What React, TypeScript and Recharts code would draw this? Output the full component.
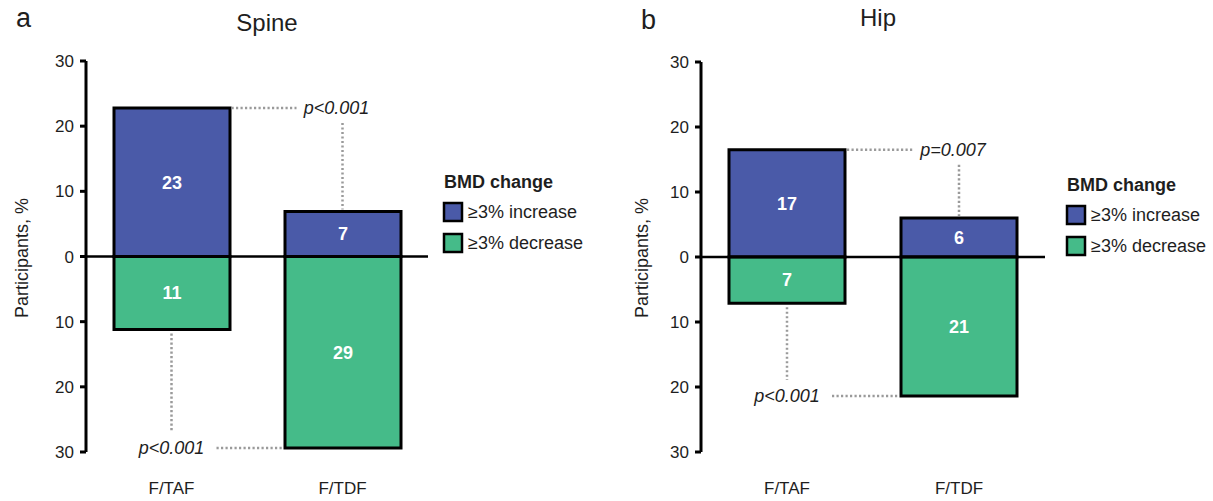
import { BarChart, Bar, XAxis, YAxis, ReferenceLine, LabelList } from 'recharts';

const categories = ['F/TAF', 'F/TDF'];
const spineIncrease = [22.8, 6.9];
const spineDecrease = [11.2, 29.4];
const hipIncrease = [16.5, 6.0];
const hipDecrease = [7.1, 21.4];
const spinePValues = ['p<0.001', 'p<0.001'];
const hipPValues = ['p=0.007', 'p<0.001'];
const yTicks = [-30, -20, -10, 0, 10, 20, 30];
const legendLabels = ['≥3% increase', '≥3% decrease'];

const BLUE = '#4a5aa8';
const GREEN = '#45bb89';
const FONT = '"Liberation Sans", Arial, Helvetica, sans-serif';
const TEXT = '#1e1e1e';
const DOT = { stroke: '#9a9a9a', strokeWidth: 2.5, strokeDasharray: '2.2 2.3' };

const PAGE_W = 1213;
const CHART_H = 501;
const Y_AXIS_W = 86;
const X_AXIS_H = 49;
const RIGHT_PAD = 12;
const BAR_SIZE = 116;

interface PanelCfg {
  letter: string;
  title: string;
  left: number;
  width: number;
  top: number;
  inc: number[];
  dec: number[];
  p: string[];
  titleX: number;
  titleY: number;
  letterX: number;
  letterY: number;
  yLabelX: number;
  legendX: number;
  legendY: number;
}

const panels: PanelCfg[] = [
  {
    letter: 'a', title: 'Spine', left: 0, width: 440, top: 61,
    inc: spineIncrease, dec: spineDecrease, p: spinePValues,
    titleX: 267, titleY: 31, letterX: 16, letterY: 27, yLabelX: 22,
    legendX: 443, legendY: 188,
  },
  {
    letter: 'b', title: 'Hip', left: 615, width: 442, top: 62,
    inc: hipIncrease, dec: hipDecrease, p: hipPValues,
    titleX: 878, titleY: 26, letterX: 641, letterY: 29, yLabelX: 642,
    legendX: 1066, legendY: 191,
  },
];

function buildRows(inc: number[], dec: number[]) {
  return categories.map((name, i) => ({
    name,
    inc: inc[i],
    dec: -dec[i],
    incLabel: Math.round(inc[i]),
    decLabel: Math.round(dec[i]),
  }));
}

function Panel({ cfg }: { cfg: PanelCfg }) {
  const rows = buildRows(cfg.inc, cfg.dec);
  const tickStyle = { fill: TEXT, fontSize: 17, fontFamily: FONT };
  const labelProps = { position: 'center' as const, fill: '#fff', stroke: 'none', fontSize: 18, fontWeight: 'bold', fontFamily: FONT };
  return (
    <div style={{ position: 'absolute', left: cfg.left, top: 0 }}>
      <BarChart
        width={cfg.width}
        height={CHART_H}
        data={rows}
        stackOffset="sign"
        margin={{ top: cfg.top, right: RIGHT_PAD, bottom: 0, left: 0 }}
      >
        <XAxis
          dataKey="name"
          axisLine={false}
          tickLine={false}
          tickSize={6}
          tickMargin={24}
          height={X_AXIS_H}
          interval={0}
          tick={tickStyle}
        />
        <YAxis
          type="number"
          domain={[-30, 30]}
          ticks={yTicks}
          interval={0}
          width={Y_AXIS_W}
          tickFormatter={(v: number) => String(Math.abs(v))}
          axisLine={{ stroke: '#000', strokeWidth: 3 }}
          tickLine={{ stroke: '#000', strokeWidth: 3 }}
          tickSize={6}
          tickMargin={6}
          tick={tickStyle}
        />
        <Bar dataKey="inc" stackId="s" fill={BLUE} stroke="#000" strokeWidth={3} barSize={BAR_SIZE} isAnimationActive={false}>
          <LabelList dataKey="incLabel" {...labelProps} />
        </Bar>
        <Bar dataKey="dec" stackId="s" fill={GREEN} stroke="#000" strokeWidth={3} barSize={BAR_SIZE} isAnimationActive={false}>
          <LabelList dataKey="decLabel" {...labelProps} />
        </Bar>
        <ReferenceLine y={0} stroke="#000" strokeWidth={2.5} />
      </BarChart>
    </div>
  );
}

// titles, legends and p-value brackets, placed from the same layout numbers as the charts
function Overlay({ cfg }: { cfg: PanelCfg }) {
  const axisX = cfg.left + Y_AXIS_W;
  const plotRight = cfg.left + cfg.width - RIGHT_PAD;
  const plotTop = cfg.top;
  const plotBottom = CHART_H - X_AXIS_H;
  const yPx = (v: number) => plotTop + ((30 - v) / 60) * (plotBottom - plotTop);
  const band = (plotRight - axisX) / categories.length;
  const cx = (i: number) => axisX + band * (i + 0.5);
  const half = BAR_SIZE / 2;

  const yTop = yPx(cfg.inc[0]);
  const yBot = yPx(-cfg.dec[1]);

  return (
    <g fontFamily={FONT} fill={TEXT}>
      <text x={cfg.letterX} y={cfg.letterY} fontSize={27}>{cfg.letter}</text>
      <text x={cfg.titleX} y={cfg.titleY} fontSize={24} textAnchor="middle">{cfg.title}</text>
      <text
        x={cfg.yLabelX}
        y={258}
        fontSize={18}
        textAnchor="middle"
        dominantBaseline="central"
        transform={`rotate(-90 ${cfg.yLabelX} 258)`}
      >
        Participants, %
      </text>

      {/* upper comparison */}
      <line x1={cx(0) + half + 2} y1={yTop} x2={cx(1) - half + 12} y2={yTop} {...DOT} />
      <text x={cx(1) - 6} y={yTop + 6} fontSize={18} fontStyle="italic" textAnchor="middle">{cfg.p[0]}</text>
      <line x1={cx(1)} y1={yTop + 15} x2={cx(1)} y2={yPx(cfg.inc[1]) - 2} {...DOT} />

      {/* lower comparison */}
      <line x1={cx(0)} y1={yPx(-cfg.dec[0]) + 4} x2={cx(0)} y2={yBot - 16} {...DOT} />
      <text x={cx(0)} y={yBot + 6} fontSize={18} fontStyle="italic" textAnchor="middle">{cfg.p[1]}</text>
      <line x1={cx(0) + 45} y1={yBot} x2={cx(1) - half - 2} y2={yBot} {...DOT} />

      {/* legend */}
      <text x={cfg.legendX + 1} y={cfg.legendY} fontSize={18} fontWeight="bold">BMD change</text>
      {legendLabels.map((lab, i) => {
        const sy = cfg.legendY + 15 + i * 31;
        return (
          <g key={lab}>
            <rect x={cfg.legendX + 1} y={sy} width={18} height={18} fill={i === 0 ? BLUE : GREEN} stroke="#000" strokeWidth={2.5} />
            <text x={cfg.legendX + 25} y={sy + 15} fontSize={18}>{lab}</text>
          </g>
        );
      })}
    </g>
  );
}

export default function App() {
  return (
    <div style={{ position: 'absolute', left: 0, top: 0, width: PAGE_W, height: CHART_H, background: '#fff' }}>
      {panels.map((cfg) => (
        <Panel key={cfg.letter} cfg={cfg} />
      ))}
      <svg
        width={PAGE_W}
        height={CHART_H}
        style={{ position: 'absolute', left: 0, top: 0, pointerEvents: 'none' }}
      >
        {panels.map((cfg) => (
          <Overlay key={cfg.letter} cfg={cfg} />
        ))}
      </svg>
    </div>
  );
}
